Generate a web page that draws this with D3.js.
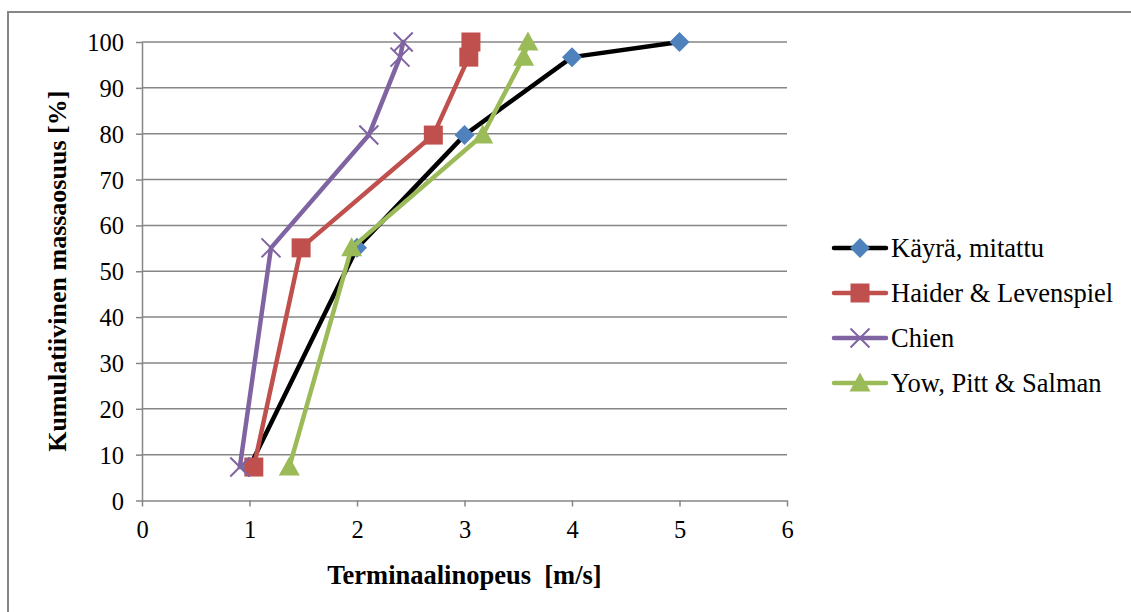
<!DOCTYPE html>
<html>
<head>
<meta charset="utf-8">
<script src="https://cdn.jsdelivr.net/npm/d3@7"></script>
<style>
  html, body { margin: 0; padding: 0; background: #fff; }
  svg text { font-family: "Liberation Serif", "Times New Roman", Times, serif; fill: #000; }
</style>
</head>
<body>
<svg id="chart" width="1131" height="612"></svg>
<script>
// Cumulative mass fraction [%] shared by all curves
const massFraction = [7.3, 55.1, 79.7, 96.7, 100];

// Terminal velocities [m/s] per method
const speedMeasured = [1.0, 2.0, 3.0, 4.0, 5.0];
const speedHaider   = [1.04, 1.48, 2.71, 3.04, 3.06];
const speedChien    = [0.91, 1.20, 2.11, 2.40, 2.43];
const speedYow      = [1.37, 1.95, 3.17, 3.55, 3.59];

const seriesNames = ["Käyrä, mitattu", "Haider & Levenspiel", "Chien", "Yow, Pitt & Salman"];

const xTicks = [0, 1, 2, 3, 4, 5, 6];
const yTicks = [0, 10, 20, 30, 40, 50, 60, 70, 80, 90, 100];

const xTitle = "Terminaalinopeus  [m/s]";
const yTitle = "Kumulatiivinen massaosuus [%]";

const series = [
  { name: seriesNames[0], xs: speedMeasured, line: "#000000", fill: "#4f81bd", marker: "diamond" },
  { name: seriesNames[1], xs: speedHaider,   line: "#c0504d", fill: "#c0504d", marker: "square" },
  { name: seriesNames[2], xs: speedChien,    line: "#8064a2", fill: "#8064a2", marker: "cross" },
  { name: seriesNames[3], xs: speedYow,      line: "#9bbb59", fill: "#9bbb59", marker: "triangle" }
];

const FONT = "'Liberation Serif', 'Times New Roman', Times, serif";
const svg = d3.select("#chart");
const grid = "#868686";

// Outer chart frame
svg.append("rect")
  .attr("x", 8).attr("y", 12).attr("width", 1140).attr("height", 620)
  .attr("fill", "none").attr("stroke", grid).attr("stroke-width", 2);

const plot = { left: 142, right: 787, top: 42, bottom: 500.5 };
const x = d3.scaleLinear().domain([0, 6]).range([plot.left, plot.right]);
const y = d3.scaleLinear().domain([0, 100]).range([plot.bottom, plot.top]);

// Horizontal gridlines
svg.append("g").selectAll("line").data(yTicks.filter(d => d > 0)).join("line")
  .attr("x1", plot.left).attr("x2", plot.right)
  .attr("y1", d => y(d)).attr("y2", d => y(d))
  .attr("stroke", grid).attr("stroke-width", 1.5);

// Axes
const yAxis = svg.append("g").attr("transform", `translate(${plot.left},0)`)
  .call(d3.axisLeft(y).tickValues(yTicks).tickFormat(d3.format("d"))
    .tickSize(6).tickPadding(12).tickSizeOuter(0));
const xAxis = svg.append("g").attr("transform", `translate(0,${plot.bottom})`)
  .call(d3.axisBottom(x).tickValues(xTicks).tickFormat(d3.format("d"))
    .tickSize(6).tickPadding(14).tickSizeOuter(0));
[xAxis, yAxis].forEach(g => {
  g.attr("font-family", FONT).attr("font-size", 24);
  g.select(".domain").attr("stroke", grid).attr("stroke-width", 1.5);
  g.selectAll(".tick line").attr("stroke", grid).attr("stroke-width", 1.5);
  g.selectAll(".tick text").style("font-family", FONT).style("font-size", "24.5px").attr("fill", "#000");
});
yAxis.selectAll(".tick text").attr("dy", "0.35em");

// Axis titles
svg.append("text")
  .attr("x", (plot.left + plot.right) / 2).attr("y", 584)
  .attr("text-anchor", "middle").style("font-size", "26.5px").style("font-weight", "bold")
  .style("white-space", "pre")
  .text(xTitle);
svg.append("text")
  .attr("transform", `translate(66,${(plot.top + plot.bottom) / 2}) rotate(-90)`)
  .attr("text-anchor", "middle").style("font-size", "26px").style("font-weight", "bold")
  .text(yTitle);

// Marker shapes
function drawMarker(g, kind, cx, cy, color) {
  if (kind === "diamond") {
    const r = 10;
    g.append("path").attr("d", `M${cx},${cy - r}L${cx + r},${cy}L${cx},${cy + r}L${cx - r},${cy}Z`)
      .attr("fill", color);
  } else if (kind === "square") {
    const h = 9.5;
    g.append("rect").attr("x", cx - h).attr("y", cy - h).attr("width", 2 * h).attr("height", 2 * h)
      .attr("fill", color);
  } else if (kind === "triangle") {
    const w = 10.5, up = 10.5, down = 8.5;
    g.append("path").attr("d", `M${cx},${cy - up}L${cx + w},${cy + down}L${cx - w},${cy + down}Z`)
      .attr("fill", color);
  } else if (kind === "cross") {
    const r = 9.5;
    g.append("path").attr("d", `M${cx - r},${cy - r}L${cx + r},${cy + r}M${cx - r},${cy + r}L${cx + r},${cy - r}`)
      .attr("stroke", color).attr("stroke-width", 2).attr("fill", "none");
  }
}

// Series lines and markers
const line = d3.line().x(d => x(d[0])).y(d => y(d[1]));
series.forEach(s => {
  const pts = s.xs.map((v, i) => [v, massFraction[i]]);
  const g = svg.append("g");
  g.append("path").datum(pts).attr("d", line)
    .attr("fill", "none").attr("stroke", s.line).attr("stroke-width", 4.5)
    .attr("stroke-linejoin", "round").attr("stroke-linecap", "round");
  pts.forEach(p => drawMarker(g, s.marker, x(p[0]), y(p[1]), s.fill));
});

// Legend
const legend = svg.append("g");
series.forEach((s, i) => {
  const ly = 248 + i * 45;
  legend.append("line").attr("x1", 834).attr("x2", 886).attr("y1", ly).attr("y2", ly)
    .attr("stroke", s.line).attr("stroke-width", 4.5).attr("stroke-linecap", "round");
  drawMarker(legend, s.marker, 860, ly, s.fill);
  legend.append("text").attr("x", 891).attr("y", ly).attr("dy", "0.35em")
    .style("font-size", "26.5px").text(s.name);
});
</script>
</body>
</html>
